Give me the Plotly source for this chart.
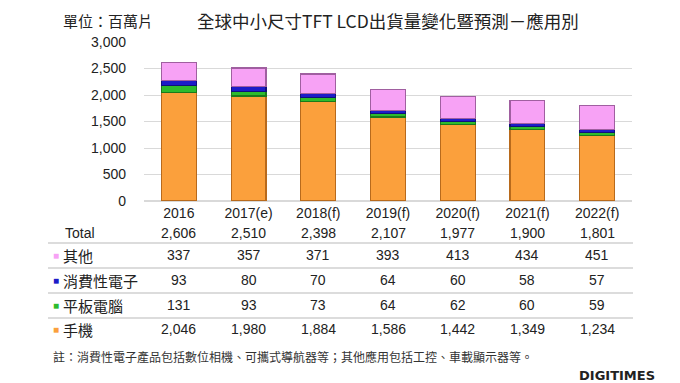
import plotly.graph_objects as go

categories = ["2016", "2017(e)", "2018(f)", "2019(f)", "2020(f)", "2021(f)", "2022(f)"]
phone = [2046, 1980, 1884, 1586, 1442, 1349, 1234]
tablet = [131, 93, 73, 64, 62, 60, 59]
consumer = [93, 80, 70, 64, 60, 58, 57]
others = [337, 357, 371, 393, 413, 434, 451]
totals = [2606, 2510, 2398, 2107, 1977, 1900, 1801]
y_ticks = [0, 500, 1000, 1500, 2000, 2500, 3000]

series = [
    ("手機", phone, "#FBA03C", "#B86A1C"),
    ("平板電腦", tablet, "#2DBB2D", "#1B7A1B"),
    ("消費性電子", consumer, "#1C1CC8", "#10107A"),
    ("其他", others, "#F7A2F5", "#A05FA0"),
]

FONT = "Arial, 'Liberation Sans', 'Noto Sans CJK TC', sans-serif"
CJK = "'Noto Sans CJK TC', Arial, sans-serif"

# page offset (body margin) compensation
OFF = 8
W, H = 680 - OFF, 383 - OFF
# plot area in reference pixels
PL, PR, PT, PB = 144, 632, 42, 201
L, R, T, B = PL - OFF, W - (PR - OFF), PT - OFF, H - (PB - OFF)
ph = H - T - B
pw = W - L - R


def py(pix):
    return (PB - pix) / ph


def pxx(px):
    return (px - PL) / pw


fig = go.Figure()
for name, vals, col, edge in series:
    fig.add_trace(go.Bar(x=categories, y=vals, name=name,
                         marker=dict(color=col, line=dict(color=edge, width=1.2)),
                         hoverinfo="x+y+name"))

annotations = []
annotations.append(dict(text="單位：百萬片", x=pxx(61), y=py(20), xref="paper", yref="paper", showarrow=False,
                        xanchor="left", yanchor="middle", font=dict(family=CJK, size=15, color="#222")))
annotations.append(dict(text="全球中小尺寸TFT LCD出貨量變化暨預測－應用別", x=pxx(388), y=py(20), xref="paper", yref="paper",
                        showarrow=False, xanchor="center", yanchor="middle", font=dict(family=CJK, size=17.5, color="#222")))

rows = [("Total", totals, None, 233),
        ("其他", others, series[3][2], 255),
        ("消費性電子", consumer, series[2][2], 280),
        ("平板電腦", tablet, series[1][2], 305),
        ("手機", phone, series[0][2], 329)]

for label, vals, col, ypix in rows:
    if col is None:
        annotations.append(dict(text=label, x=pxx(63), y=py(ypix), xref="paper", yref="paper", showarrow=False,
                                xanchor="left", yanchor="middle", font=dict(family=FONT, size=14, color="#222")))
    else:
        annotations.append(dict(text="■", x=pxx(51), y=py(ypix), xref="paper", yref="paper", showarrow=False,
                                xanchor="left", yanchor="middle", font=dict(family=FONT, size=10, color=col)))
        annotations.append(dict(text=label, x=pxx(61), y=py(ypix), xref="paper", yref="paper", showarrow=False,
                                xanchor="left", yanchor="middle", font=dict(family=CJK, size=15, color="#222")))
    for i, v in enumerate(vals):
        annotations.append(dict(text=f"{v:,}", x=i, y=py(ypix), xref="x", yref="paper", showarrow=False,
                                xanchor="center", yanchor="middle", font=dict(family=FONT, size=14, color="#222")))

annotations.append(dict(text="註：消費性電子產品包括數位相機、可攜式導航器等；其他應用包括工控、車載顯示器等。", x=pxx(51), y=py(356),
                        xref="paper", yref="paper", showarrow=False, xanchor="left", yanchor="middle",
                        font=dict(family=CJK, size=12, color="#333")))
annotations.append(dict(text="<b>DIGITIMES</b>", x=pxx(657), y=py(375), xref="paper", yref="paper", showarrow=False,
                        xanchor="right", yanchor="middle", font=dict(family="'DejaVu Sans', sans-serif", size=13, color="#222")))

shapes = []
for ypix in [243, 268, 293, 318]:
    shapes.append(dict(type="line", xref="paper", yref="paper", x0=pxx(48), x1=pxx(633), y0=py(ypix), y1=py(ypix),
                       line=dict(color="#D0D0D0", width=1.5)))

fig.update_layout(
    barmode="stack",
    bargap=0.5,
    width=W, height=H,
    margin=dict(l=L, r=R, t=T, b=B, autoexpand=False),
    paper_bgcolor="white", plot_bgcolor="white",
    showlegend=False,
    font=dict(family=FONT, size=14, color="#222"),
    xaxis=dict(type="category", categoryorder="array", categoryarray=categories, range=[-0.5, len(categories) - 0.5],
               showgrid=False, showline=False, ticks="", tickfont=dict(size=14, color="#222"),
               ticklabelstandoff=2),
    yaxis=dict(range=[0, 3000], tickvals=y_ticks, tickformat=",d", showgrid=True, gridcolor="#D9D9D9", gridwidth=1,
               zeroline=True, zerolinecolor="#D9D9D9", ticks="", tickfont=dict(size=14, color="#222"),
               ticklabelstandoff=17),
    annotations=annotations,
    shapes=shapes,
)

fig.write_html("out.html")
